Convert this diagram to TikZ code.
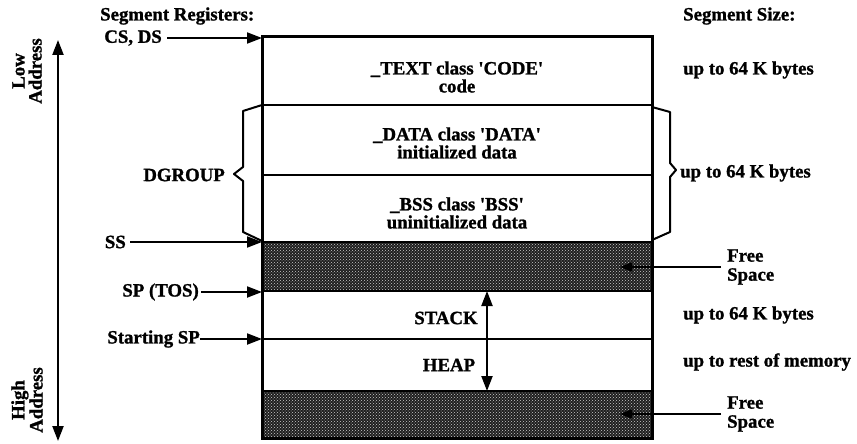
\documentclass[tikz,border=0pt]{standalone}
\usepackage{fontspec}
\setmainfont{Liberation Serif}[BoldFeatures={FakeBold=1.2}]
\usetikzlibrary{arrows.meta,patterns}
\newcommand{\sq}{\textquotesingle}
\begin{document}
\begin{tikzpicture}[x=1pt,y=-1pt,
  lbl/.style={font=\fontsize{18.8}{17}\selectfont\bfseries, inner sep=0pt},
  txt/.style={font=\fontsize{18.8}{18}\selectfont\bfseries, inner sep=0pt, align=center},
  ptr/.style={line width=2pt, -{Triangle[length=15pt,width=11pt]}},
  sep/.style={line width=2.4pt},
  brace/.style={line width=2pt, line join=round},
  shade/.style={fill=black!88}]
\useasboundingbox (0,0) rectangle (857,444);
% shaded free space
\fill[shade] (262,242) rectangle (652,291);
\fill[pattern=crosshatch dots, pattern color=white!80!black] (262,242) rectangle (652,291);
\fill[shade] (262,391) rectangle (652,438);
\fill[pattern=crosshatch dots, pattern color=white!80!black] (262,391) rectangle (652,438);
% box and separators
\coordinate (tl) at (262,37);
\coordinate (br) at (652,438);
\draw[sep] (262,105) -- (652,105);
\draw[sep] (262,175) -- (652,175);
\draw[sep] (262,242) -- (652,242);
\draw[sep] (262,291) -- (652,291);
\draw[sep] (262,339) -- (652,339);
\draw[sep] (262,391) -- (652,391);
\draw[line width=3pt] (tl) rectangle (br);
% box texts
\node[txt] (code) at (457,77) {\_TEXT class \sq CODE\sq\\code};
\node[txt] (data) at (457,143) {\_DATA class \sq DATA\sq\\initialized data};
\node[txt] (bss) at (457,213) {\_BSS class \sq BSS\sq\\uninitialized data};
\node[lbl] (stack) at (446,318) {STACK};
\node[lbl] (heap) at (449,365) {HEAP};
\coordinate (mid) at (487,339);
\coordinate (stacktop) at (487,291);
\coordinate (heapbot) at (487,391);
\draw[line width=2.2pt, -{Triangle[length=15pt,width=11pt]}] ([yshift=-1pt]mid) -- (stacktop);
\draw[line width=2.2pt, -{Triangle[length=15pt,width=11pt]}] ([yshift=1pt]mid) -- (heapbot);
% headings
\node[lbl, anchor=west] (segreg) at (100,16) {Segment Registers:};
\node[lbl, anchor=west] (segsize) at (683,16) {Segment Size:};
% register pointers
\node[lbl, anchor=east] (csds) at (162,38) {CS, DS};
\coordinate (pcs) at (262,38);
\draw[ptr] (csds.east) ++(5,0) -- (pcs);
\node[lbl, anchor=east] (ss) at (126,242) {SS};
\coordinate (pss) at (262,242);
\draw[ptr] (ss.east) ++(4,0) -- (pss);
\node[lbl, anchor=east] (sptos) at (199,292) {SP (TOS)};
\coordinate (psp) at (262,292);
\draw[ptr] (sptos.east) ++(2,0) -- (psp);
\node[lbl, anchor=east] (startsp) at (200,339) {Starting SP};
\coordinate (pst) at (262,339);
\draw[ptr] (startsp.east) -- (pst);
% DGROUP brace
\draw[brace] (262,105) -- (243,111) -- (243,167) -- (234,174) -- (243,181) -- (243,232) -- (262,241);
\node[lbl, anchor=east] (dgroup) at (225,175) {DGROUP};
% right brace
\draw[brace] (652,107) -- (670,112) -- (670,163) -- (676,170) -- (670,177) -- (670,232) -- (652,240);
% sizes
\node[lbl, anchor=west] (s1) at (683,70) {up to 64 K bytes};
\node[lbl, anchor=west] (s2) at (680,173) {up to 64 K bytes};
\node[lbl, anchor=west] (s3) at (683,315) {up to 64 K bytes};
\node[lbl, anchor=west] (s4) at (683,362) {up to rest of memory};
% free space
\node[txt, align=left, anchor=west, font=\fontsize{18.8}{19}\selectfont\bfseries] (free1) at (727,267) {Free\\Space};
\node[txt, align=left, anchor=west, font=\fontsize{18.8}{19}\selectfont\bfseries] (free2) at (727,414) {Free\\Space};
\coordinate (f1) at (620,267);
\coordinate (f2) at (620,414);
\draw[line width=1.8pt, -{Triangle[length=12pt,width=9pt]}] (free1.west) ++(-6,0) -- (f1);
\draw[line width=1.8pt, -{Triangle[length=12pt,width=9pt]}] (free2.west) ++(-6,0) -- (f2);
% address axis
\coordinate (atop) at (58,40);
\coordinate (abot) at (58,441);
\draw[line width=2.2pt, {Triangle[length=15pt,width=11pt]}-{Triangle[length=15pt,width=11pt]}] (atop) -- (abot);
\node[txt, rotate=90, font=\fontsize{18.8}{17}\selectfont\bfseries] (low) at (27,71) {Low\\Address};
\node[txt, rotate=90, font=\fontsize{18.8}{17}\selectfont\bfseries] (high) at (27,400) {High\\Address};
\end{tikzpicture}
\end{document}
